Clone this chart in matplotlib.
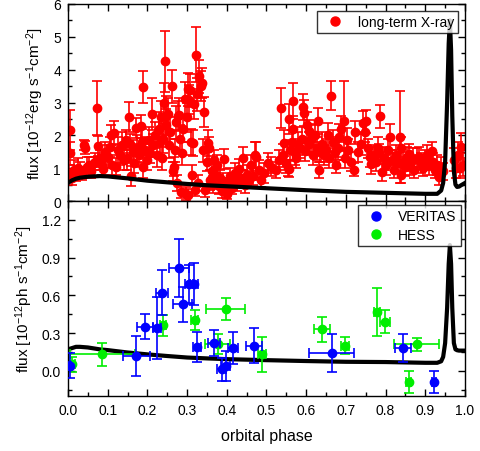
import numpy as np
import matplotlib
matplotlib.use("Agg")
import matplotlib.pyplot as plt
from matplotlib.lines import Line2D
from matplotlib.ticker import MultipleLocator

plt.rcParams['font.family'] = ['Liberation Sans', 'DejaVu Sans']
plt.rcParams['mathtext.fontset'] = 'custom'
plt.rcParams['mathtext.rm'] = 'Liberation Sans'
plt.rcParams['mathtext.it'] = 'Liberation Sans:italic'
plt.rcParams['mathtext.default'] = 'regular'

# long-term X-ray (phase, flux, error)
xr_phase = [0.003, 0.004, 0.006, 0.010, 0.015, 0.020, 0.025, 0.029, 0.035, 0.040, 0.042, 0.047, 0.052, 0.058,
            0.065, 0.068, 0.072, 0.075, 0.080, 0.085, 0.089, 0.094, 0.100, 0.105, 0.108, 0.112, 0.116, 0.120,
            0.125, 0.130, 0.135, 0.140, 0.145, 0.148, 0.153, 0.155, 0.159, 0.163, 0.167, 0.171, 0.175, 0.180,
            0.184, 0.186, 0.188, 0.190, 0.195, 0.198, 0.203, 0.207, 0.212, 0.215, 0.220, 0.224, 0.228, 0.232,
            0.235, 0.238, 0.240, 0.243, 0.244, 0.246, 0.248, 0.251, 0.255, 0.258, 0.262, 0.265, 0.268, 0.270,
            0.272, 0.275, 0.277, 0.280, 0.283, 0.285, 0.288, 0.290, 0.294, 0.297, 0.300, 0.301, 0.303, 0.305,
            0.307, 0.310, 0.312, 0.314, 0.317, 0.320, 0.322, 0.325, 0.328, 0.331, 0.334, 0.338, 0.340, 0.343,
            0.346, 0.349, 0.352, 0.355, 0.358, 0.362, 0.366, 0.369, 0.372, 0.376, 0.380, 0.384, 0.388, 0.391,
            0.394, 0.398, 0.401, 0.404, 0.408, 0.412, 0.416, 0.420, 0.425, 0.431, 0.436, 0.442, 0.446, 0.450,
            0.455, 0.460, 0.465, 0.470, 0.474, 0.480, 0.486, 0.493, 0.503, 0.511, 0.525, 0.531, 0.537, 0.541,
            0.545, 0.550, 0.553, 0.556, 0.557, 0.560, 0.563, 0.566, 0.568, 0.572, 0.575, 0.580, 0.585, 0.590,
            0.592, 0.595, 0.598, 0.602, 0.606, 0.608, 0.612, 0.617, 0.622, 0.626, 0.629, 0.631, 0.635, 0.640,
            0.645, 0.650, 0.654, 0.658, 0.662, 0.667, 0.672, 0.675, 0.679, 0.683, 0.688, 0.696, 0.698, 0.702,
            0.706, 0.712, 0.721, 0.724, 0.730, 0.737, 0.744, 0.748, 0.751, 0.756, 0.760, 0.764, 0.770, 0.775,
            0.780, 0.783, 0.786, 0.790, 0.795, 0.800, 0.805, 0.811, 0.815, 0.820, 0.825, 0.830, 0.836, 0.838,
            0.840, 0.845, 0.850, 0.855, 0.858, 0.862, 0.868, 0.872, 0.878, 0.885, 0.890, 0.895, 0.900, 0.905,
            0.910, 0.917, 0.920, 0.925, 0.930, 0.935, 0.940, 0.945, 0.972, 0.978, 0.983, 0.987, 0.990, 0.995]
xr_flux = [0.85, 1.46, 2.16, 0.70, 0.95, 0.80, 1.00, 0.95, 0.85, 1.70, 1.62, 1.05, 1.10, 0.90,
           1.15, 1.20, 2.83, 1.68, 1.30, 1.10, 0.98, 1.50, 1.35, 1.65, 2.02, 1.10, 2.08, 1.05,
           1.55, 1.40, 1.70, 1.25, 1.85, 1.30, 2.56, 1.75, 0.77, 1.50, 1.15, 2.22, 1.60, 1.40,
           2.27, 1.80, 1.05, 3.47, 1.55, 1.25, 1.85, 1.45, 2.65, 1.70, 2.00, 1.40, 2.20, 1.80,
           2.55, 1.30, 1.90, 2.98, 4.26, 2.60, 2.30, 2.65, 1.70, 2.10, 3.50, 0.90, 1.05, 1.55,
           2.40, 0.55, 2.60, 2.63, 1.90, 0.28, 1.45, 2.20, 3.11, 0.22, 2.55, 3.40, 0.18, 3.09,
           3.37, 1.80, 0.80, 1.76, 2.95, 0.35, 4.46, 3.25, 0.55, 3.80, 3.50, 3.60, 1.55, 2.71,
           0.33, 1.20, 1.76, 1.60, 0.65, 0.90, 0.50, 1.25, 0.80, 1.10, 0.45, 0.70, 0.30, 0.60,
           1.28, 0.28, 0.20, 0.50, 0.75, 0.40, 0.60, 0.85, 0.55, 0.98, 0.70, 1.30, 0.50, 0.80,
           0.65, 1.10, 0.75, 1.40, 1.35, 0.95, 0.64, 0.85, 1.15, 1.05, 0.95, 1.25, 2.83, 1.40,
           1.76, 1.15, 1.00, 0.98, 2.50, 1.55, 1.80, 2.20, 3.04, 1.45, 1.30, 1.75, 1.60, 1.90,
           2.86, 2.68, 1.51, 2.30, 1.75, 2.12, 1.90, 1.40, 2.00, 1.60, 2.43, 0.95, 1.50, 1.75,
           1.40, 1.55, 2.02, 1.30, 3.21, 1.80, 1.50, 1.10, 1.61, 1.95, 2.20, 2.45, 1.30, 1.87,
           1.55, 1.20, 0.95, 2.10, 1.50, 1.75, 2.39, 2.10, 2.43, 1.60, 1.35, 1.12, 1.40, 1.20,
           1.61, 1.45, 2.58, 0.87, 1.30, 1.10, 1.55, 1.95, 1.25, 0.95, 1.40, 1.15, 1.95, 0.80,
           1.60, 1.20, 1.05, 1.35, 1.43, 1.10, 1.25, 0.95, 1.30, 1.35, 1.15, 1.00, 1.25, 1.40,
           1.10, 1.51, 1.20, 0.95, 1.10, 0.74, 1.05, 0.90, 1.25, 1.00, 1.40, 1.00, 1.66, 1.10]
xr_err = [0.25, 0.35, 0.60, 0.20, 0.30, 0.20, 0.30, 0.25, 0.20, 0.15, 0.20, 0.30, 0.25, 0.20,
          0.20, 0.25, 0.82, 0.30, 0.25, 0.30, 0.25, 0.30, 0.35, 0.30, 0.30, 0.30, 0.35, 0.25,
          0.40, 0.30, 0.40, 0.30, 0.30, 0.35, 0.45, 0.30, 0.30, 0.35, 0.30, 0.30, 0.40, 0.35,
          0.35, 0.40, 0.35, 0.50, 0.40, 0.30, 0.40, 0.30, 0.50, 0.35, 0.40, 0.35, 0.50, 0.40,
          0.50, 0.35, 0.45, 0.60, 0.93, 0.60, 0.50, 0.50, 0.40, 0.45, 0.50, 0.30, 0.30, 0.35,
          0.50, 0.25, 0.45, 0.50, 0.40, 0.20, 0.35, 0.40, 0.50, 0.20, 0.45, 0.50, 0.20, 0.45,
          0.50, 0.40, 0.30, 0.40, 0.45, 0.20, 0.85, 0.50, 0.25, 0.50, 0.45, 0.45, 0.35, 0.45,
          0.20, 0.30, 0.40, 0.35, 0.30, 0.30, 0.25, 0.30, 0.25, 0.30, 0.25, 0.25, 0.20, 0.25,
          0.30, 0.20, 0.15, 0.20, 0.25, 0.20, 0.25, 0.30, 0.25, 0.30, 0.25, 0.35, 0.25, 0.30,
          0.25, 0.30, 0.25, 0.40, 0.45, 0.30, 0.20, 0.30, 0.30, 0.30, 0.25, 0.30, 0.60, 0.35,
          0.40, 0.30, 0.25, 0.25, 0.45, 0.30, 0.35, 0.40, 0.55, 0.35, 0.30, 0.35, 0.30, 0.35,
          0.40, 0.40, 0.30, 0.40, 0.35, 0.35, 0.40, 0.30, 0.35, 0.35, 0.40, 0.25, 0.30, 0.35,
          0.30, 0.35, 0.35, 0.30, 0.45, 0.35, 0.30, 0.25, 0.35, 0.40, 0.40, 1.20, 0.30, 0.35,
          0.35, 0.30, 0.20, 0.35, 0.30, 0.35, 0.35, 0.30, 0.35, 0.30, 0.30, 0.30, 0.30, 0.30,
          0.35, 0.30, 0.35, 0.25, 0.35, 0.30, 0.35, 0.40, 0.30, 0.25, 0.30, 0.30, 1.40, 0.25,
          0.35, 0.30, 0.30, 0.30, 0.30, 0.30, 0.35, 0.25, 0.30, 0.30, 0.30, 0.25, 0.30, 0.30,
          0.30, 0.30, 0.25, 0.25, 0.30, 0.25, 0.30, 0.25, 0.35, 0.30, 0.40, 0.30, 0.40, 0.35]

# VERITAS
ver_phase = [0.004, 0.172, 0.195, 0.224, 0.237, 0.279, 0.289, 0.304, 0.317, 0.324, 0.368, 0.387, 0.397,
             0.416, 0.469, 0.664, 0.843, 0.922]
ver_flux = [0.04, 0.12, 0.35, 0.34, 0.62, 0.82, 0.53, 0.69, 0.69, 0.19, 0.22, 0.01, 0.04,
            0.18, 0.20, 0.14, 0.18, -0.09]
ver_yerr = [0.10, 0.16, 0.10, 0.25, 0.18, 0.23, 0.14, 0.15, 0.17, 0.12, 0.10, 0.09, 0.12,
            0.13, 0.14, 0.15, 0.11, 0.09]
ver_xerr = [0.004, 0.034, 0.020, 0.010, 0.015, 0.025, 0.024, 0.010, 0.010, 0.010, 0.015, 0.012, 0.012,
            0.012, 0.020, 0.056, 0.020, 0.006]

# HESS
hess_phase = [0.010, 0.086, 0.239, 0.319, 0.377, 0.397, 0.489, 0.639, 0.697, 0.779, 0.798, 0.858, 0.878]
hess_flux = [0.05, 0.13, 0.36, 0.40, 0.21, 0.49, 0.13, 0.33, 0.20, 0.47, 0.39, -0.09, 0.21]
hess_yerr = [0.06, 0.09, 0.08, 0.08, 0.08, 0.09, 0.14, 0.10, 0.07, 0.19, 0.09, 0.09, 0.05]
hess_xerr = [0.008, 0.082, 0.008, 0.008, 0.032, 0.049, 0.010, 0.020, 0.010, 0.008, 0.012, 0.006, 0.056]

# model curves
mod_phase = [0.0, 0.01, 0.02, 0.03, 0.05, 0.08, 0.10, 0.15, 0.20, 0.25, 0.30, 0.35, 0.40, 0.50, 0.60,
             0.70, 0.80, 0.90, 0.93, 0.94, 0.945, 0.95, 0.955, 0.959, 0.962, 0.965, 0.968, 0.972,
             0.976, 0.98, 0.985, 0.99, 1.0]
mod_xray = [0.55, 0.63, 0.68, 0.71, 0.74, 0.76, 0.75, 0.69, 0.62, 0.57, 0.52, 0.48, 0.45, 0.39, 0.33,
            0.28, 0.25, 0.22, 0.22, 0.32, 0.55, 1.2, 3.0, 4.8, 5.5, 4.6, 2.6, 0.9,
            0.50, 0.43, 0.44, 0.48, 0.55]
mod_tev = [0.17, 0.18, 0.19, 0.19, 0.185, 0.17, 0.164, 0.145, 0.13, 0.117, 0.105, 0.098, 0.092, 0.084, 0.077,
           0.071, 0.069, 0.063, 0.063, 0.075, 0.11, 0.22, 0.5, 0.85, 1.0, 0.85, 0.5, 0.22,
           0.17, 0.163, 0.16, 0.16, 0.16]

fig = plt.figure(figsize=(4.81, 4.52), dpi=100)
ax1 = fig.add_axes([0.1414, 0.553, 0.8253, 0.436])
ax2 = fig.add_axes([0.1414, 0.122, 0.8253, 0.431])

ax1.errorbar(xr_phase, xr_flux, yerr=xr_err, fmt='o', color='#ff0000', ms=6,
             elinewidth=1.2, capsize=3.5, capthick=1.2, zorder=2)
ax1.plot(mod_phase, mod_xray, color='black', lw=3, zorder=3)
ax1.set_xlim(0, 1)
ax1.set_ylim(0, 6)
ax1.set_ylabel('flux [10$^{-12}$erg s$^{-1}$cm$^{-2}$]', fontsize=11, labelpad=5)
ax1.yaxis.set_major_locator(MultipleLocator(1))
ax1.yaxis.set_minor_locator(MultipleLocator(0.5))
ax1.tick_params(labelbottom=False)
leg1 = ax1.legend(handles=[Line2D([], [], ls='none', marker='o', color='#ff0000', ms=6.5)],
                  labels=['long-term X-ray'], loc='upper right', fontsize=10, frameon=True,
                  fancybox=False, edgecolor='black', borderpad=0.3, handletextpad=0.6,
                  borderaxespad=0.5)
leg1.get_frame().set_linewidth(1.0)
leg1.set_zorder(5)

ax2.plot(mod_phase, mod_tev, color='black', lw=3, zorder=1)
ax2.errorbar(ver_phase, ver_flux, xerr=ver_xerr, yerr=ver_yerr, fmt='o', color='#0000ff', ms=6,
             elinewidth=1.2, capsize=3.5, capthick=1.2, zorder=3)
ax2.errorbar(hess_phase, hess_flux, xerr=hess_xerr, yerr=hess_yerr, fmt='o', color='#00ee00', ms=6,
             elinewidth=1.2, capsize=3.5, capthick=1.2, zorder=2)
ax2.set_xlim(0, 1)
ax2.set_ylim(-0.2, 1.35)
ax2.set_ylabel('flux [10$^{-12}$ph s$^{-1}$cm$^{-2}$]', fontsize=11, labelpad=5)
ax2.set_xlabel('orbital phase', fontsize=11.5, labelpad=8)
ax2.yaxis.set_major_locator(MultipleLocator(0.3))
ax2.yaxis.set_minor_locator(MultipleLocator(0.15))
ax2.yaxis.set_major_formatter(matplotlib.ticker.FormatStrFormatter('%.1f'))
leg2 = ax2.legend(handles=[Line2D([], [], ls='none', marker='o', color='#0000ff', ms=6.5),
                           Line2D([], [], ls='none', marker='o', color='#00ee00', ms=6.5)],
                  labels=['VERITAS', 'HESS'], loc='upper right', fontsize=10, frameon=True,
                  fancybox=False, edgecolor='black', borderpad=0.3, handletextpad=0.6,
                  borderaxespad=0.3, labelspacing=0.3)
leg2.get_frame().set_linewidth(1.0)

for ax in (ax1, ax2):
    ax.xaxis.set_major_locator(MultipleLocator(0.1))
    ax.xaxis.set_minor_locator(MultipleLocator(0.05))
    ax.tick_params(which='both', direction='in', top=True, right=True, labelsize=10, width=1.0)
    ax.tick_params(which='major', length=5, pad=5)
    ax.tick_params(which='minor', length=3)
    for s in ax.spines.values():
        s.set_linewidth(1.0)

fig.savefig('out.png', dpi=100)
